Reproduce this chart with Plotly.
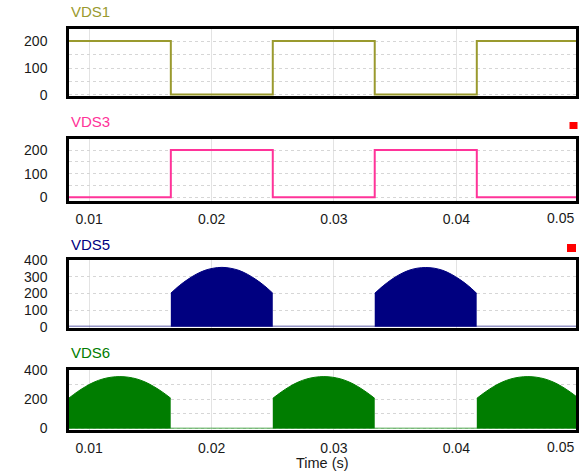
import plotly.graph_objects as go

# ---- data -------------------------------------------------------------
# switching instants (s) of the square-wave drain-source voltages
t_edges = [0.00835, 0.01667, 0.025, 0.03333, 0.04167, 0.05]
vds1_levels = [200, 2, 200, 2, 200, 200]
vds3_levels = [1, 200, 1, 200, 1, 1]

# time offsets (s) inside one conduction interval of the sinusoidal humps
hump_offsets = [0, 0.00069, 0.00139, 0.00208, 0.00278, 0.00347, 0.00417,
                0.00486, 0.00556, 0.00625, 0.00694, 0.00764, 0.00833]

vds5_starts = [0.01667, 0.03333]
vds5_humps = [
    [201, 246, 284, 315, 338, 351, 356, 351, 338, 315, 284, 246, 201],
    [200, 245, 284, 315, 338, 351, 355, 351, 338, 315, 284, 246, 200],
]
vds5_low = 2

vds6_starts = [0.00833, 0.025, 0.04167]
vds6_humps = [
    [206, 249, 286, 316, 337, 349, 353, 349, 337, 316, 286, 249, 206],
    [205, 248, 286, 316, 337, 349, 353, 349, 337, 316, 286, 248, 205],
    [205, 248, 286, 316, 337, 349, 353, 349, 337, 316, 286, 248, 205],
]
vds6_low = 2

x_ticks = [0.01, 0.02, 0.03, 0.04]
x_last_label = "0.05"

names = ["VDS1", "VDS3", "VDS5", "VDS6"]
colors = ["#9a9a2e", "#ff3399", "#000080", "#007d00"]
base_colors = ["#9a9a2e", "#ff3399", "rgba(60,60,150,0.55)", "rgba(60,160,60,0.6)"]

y_ranges = [[-5, 246], [-14, 248], [-6, 402], [-8, 400]]
y_tickvals = [[0, 50, 100, 150, 200], [0, 50, 100, 150, 200],
              [0, 100, 200, 300, 400], [0, 100, 200, 300, 400]]
y_ticktext = [["0", "", "100", "", "200"], ["0", "", "100", "", "200"],
              ["0", "100", "200", "300", "400"], ["0", "", "200", "", "400"]]

# ---- layout geometry (pixels) -------------------------------------------
W, H = 585, 471
LEFT, RIGHT = 69, 576.3
panels_px = [(28.7, 96.3), (138.7, 200.7), (259.7, 327.7), (369.7, 429.7)]
title_y_px = [12, 122, 244, 352.5]
x_range = [0.00835, 0.0498]

FONT = "Liberation Sans, Arial, sans-serif"


def ydom(top, bottom):
    return [1 - bottom / H, 1 - top / H]


fig = go.Figure()

# square waves
for i, lv in ((1, vds1_levels), (2, vds3_levels)):
    fig.add_trace(go.Scatter(
        x=t_edges, y=lv, mode="lines", line=dict(color=colors[i - 1], width=2, shape="hv"),
        xaxis=f"x{i}", yaxis=f"y{i}", showlegend=False, hoverinfo="skip"))

# filled sinusoidal humps
for i, starts, humps, low in ((3, vds5_starts, vds5_humps, vds5_low),
                              (4, vds6_starts, vds6_humps, vds6_low)):
    fig.add_trace(go.Scatter(
        x=[t_edges[0], t_edges[-1]], y=[low, low], mode="lines",
        line=dict(color=base_colors[i - 1], width=1.5),
        xaxis=f"x{i}", yaxis=f"y{i}", showlegend=False, hoverinfo="skip"))
    for s, vals in zip(starts, humps):
        fig.add_trace(go.Scatter(
            x=[s + o for o in hump_offsets], y=vals, mode="lines",
            line=dict(color=colors[i - 1], width=1, shape="spline"),
            fill="tozeroy", fillcolor=colors[i - 1],
            xaxis=f"x{i}", yaxis=f"y{i}", showlegend=False, hoverinfo="skip"))

layout = dict(
    width=W, height=H,
    margin=dict(l=0, r=0, t=0, b=0, autoexpand=False),
    paper_bgcolor="white", plot_bgcolor="white",
    font=dict(family=FONT, size=14, color="#1a1a1a"),
    annotations=[], shapes=[],
)

for i in range(1, 5):
    top, bottom = panels_px[i - 1]
    show_x_labels = i in (2, 4)
    layout[f"xaxis{i}"] = dict(
        domain=[LEFT / W, RIGHT / W], anchor=f"y{i}", range=x_range,
        tickmode="array", tickvals=x_ticks, ticktext=[f"{v:.2f}" for v in x_ticks],
        showticklabels=show_x_labels, ticks="", ticklabelstandoff=4,
        showgrid=True, gridcolor="#e3e3e3", gridwidth=1,
        showline=True, mirror=True, linecolor="black", linewidth=2.5,
        zeroline=False, automargin=False, tickfont=dict(size=14, color="#1a1a1a"),
    )
    layout[f"yaxis{i}"] = dict(
        domain=ydom(top, bottom), anchor=f"x{i}", range=y_ranges[i - 1],
        tickmode="array", tickvals=y_tickvals[i - 1], ticktext=y_ticktext[i - 1],
        ticks="", ticklabelstandoff=16,
        showgrid=True, gridcolor="#d6d6d6", gridwidth=1, griddash="dot",
        showline=True, mirror=True, linecolor="black", linewidth=2.5,
        zeroline=False, automargin=False, tickfont=dict(size=14, color="#1a1a1a"),
    )
    # panel title
    layout["annotations"].append(dict(
        text=names[i - 1], xref="paper", yref="paper",
        x=LEFT / W, y=1 - title_y_px[i - 1] / H, xanchor="left", yanchor="middle",
        showarrow=False, font=dict(size=15, color=colors[i - 1], family=FONT)))
    if show_x_labels:
        layout["annotations"].append(dict(
            text=x_last_label, xref=f"x{i} domain", yref="paper",
            x=1, y=1 - (bottom + 17) / H, xanchor="right", yanchor="middle",
            showarrow=False, font=dict(size=14, color="#1a1a1a", family=FONT)))

layout["annotations"].append(dict(
    text="Time (s)", xref="paper", yref="paper",
    x=(LEFT + RIGHT) / 2 / W, y=1 - 462.5 / H, xanchor="center", yanchor="middle",
    showarrow=False, font=dict(size=14.5, color="#1a1a1a", family=FONT)))

# small red markers at the right of the VDS3 and VDS5 panels
for cx, cy, w, h in ((573.5, 125.5, 8, 7), (571.5, 248, 9, 8)):
    layout["shapes"].append(dict(
        type="rect", xref="paper", yref="paper",
        x0=(cx - w / 2) / W, x1=(cx + w / 2) / W,
        y0=1 - (cy + h / 2) / H, y1=1 - (cy - h / 2) / H,
        fillcolor="#ff0000", line=dict(width=0)))

fig.update_layout(**layout)
fig.write_html("out.html")
